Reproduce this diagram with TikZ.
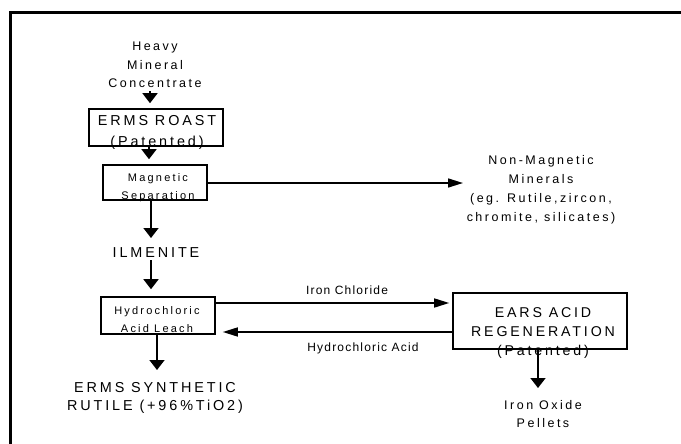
\documentclass[tikz,border=0pt]{standalone}
\usepackage{fontspec}
\setmainfont{Liberation Sans}
\newfontfamily\spfont[LetterSpace=20]{Liberation Sans}
\newfontfamily\lblfont[LetterSpace=10]{Liberation Sans}
\usetikzlibrary{arrows.meta}
\begin{document}
\begin{tikzpicture}[x=1pt,y=-1pt,
  box/.style={draw,line width=1.6pt,inner sep=0pt},
  txt/.style={inner sep=0pt,align=center},
  vflow/.style={line width=1.6pt,-{Triangle[width=15pt,length=10pt]}},
  hflow/.style={line width=1.6pt,-{Triangle[width=9pt,length=15pt]}},
  big/.style={font=\spfont\fontsize{14.2}{19}\selectfont},
  mid/.style={font=\spfont\fontsize{12.5}{18.5}\selectfont},
  small/.style={font=\spfont\fontsize{11}{18.5}\selectfont},
  lbl/.style={inner sep=0pt,font=\lblfont\fontsize{12}{14}\selectfont},
]
\useasboundingbox (0,0) rectangle (681,444);
\draw[line width=3pt] (10.5,450) -- (10.5,12.5) -- (690,12.5);

% boxes
\node[box,minimum width=134pt,minimum height=37pt] (roast) at (156,127.5) {};
\node[box,minimum width=104pt,minimum height=35pt] (mag) at (155,182.5) {};
\node[box,minimum width=114pt,minimum height=37pt] (leach) at (158,315.5) {};
\node[box,minimum width=174pt,minimum height=56pt] (ears) at (540,321) {};

% texts
\node[txt,mid] (heavy) at (155,65) {Heavy\\Mineral\\Concentrate};
\node[txt,big,font=\spfont\fontsize{14.4}{21}\selectfont] (roastT) at (157,132) {ERMS ROAST\\(Patented)};
\node[txt,small] (magT) at (158,187.5) {Magnetic\\Separation};
\node[txt,mid,font=\spfont\fontsize{12.5}{19}\selectfont] (nonmag) at (541,189.5) {Non-Magnetic\\Minerals\\(eg. Rutile,zircon,\\chromite, silicates)};
\node[txt,big,font=\spfont\fontsize{14.4}{18}\selectfont] (ilm) at (156,253) {ILMENITE};
\node[txt,small,font=\spfont\fontsize{11}{18}\selectfont] (leachT) at (157,319.5) {Hydrochloric\\Acid Leach};
\node[txt,big,font=\spfont\fontsize{14.4}{18}\selectfont] (prod) at (155,398) {ERMS SYNTHETIC\\RUTILE (+96\%TiO2)};
\node[txt,big,font=\spfont\fontsize{14.2}{19}\selectfont] (earsT) at (543,333) {EARS ACID\\REGENERATION\\(Patented)};
\node[txt,mid] (oxide) at (543,414) {Iron Oxide\\Pellets};
\node[lbl] (lblCl) at (347,290) {Iron Chloride};
\node[lbl] (lblHCl) at (363,348) {Hydrochloric Acid};

% connectors
\draw[vflow,shorten >=5pt] ([xshift=-5pt,yshift=-3pt]heavy.south) -- ([xshift=-6pt]roast.north);
\draw[vflow,shorten >=5pt] ([xshift=-7pt]roast.south) -- ([xshift=-6pt]mag.north);
\draw[hflow] ([yshift=-0.5pt]mag.east) -- ([yshift=-0.5pt]mag.east -| 463,0);
\draw[vflow] ([xshift=-4pt]mag.south) -- ([xshift=-4pt]mag.south |- 0,238);
\draw[vflow,shorten >=7pt] ([xshift=-5pt,yshift=-2pt]ilm.south) -- ([xshift=-7pt]leach.north);
\draw[vflow] ([xshift=-1pt]leach.south) -- ([xshift=-1pt]leach.south |- 0,370);
\draw[hflow,shorten >=3pt] ([yshift=12.5pt]leach.east) -- ([yshift=12.5pt]leach.east -| ears.west);
\draw[hflow,shorten >=7pt] ([yshift=-11pt]ears.west) -- ([yshift=-11pt]ears.west -| leach.east);
\draw[vflow] ([xshift=-2pt]ears.south) -- ([xshift=-2pt]ears.south |- 0,388);
\end{tikzpicture}
\end{document}
